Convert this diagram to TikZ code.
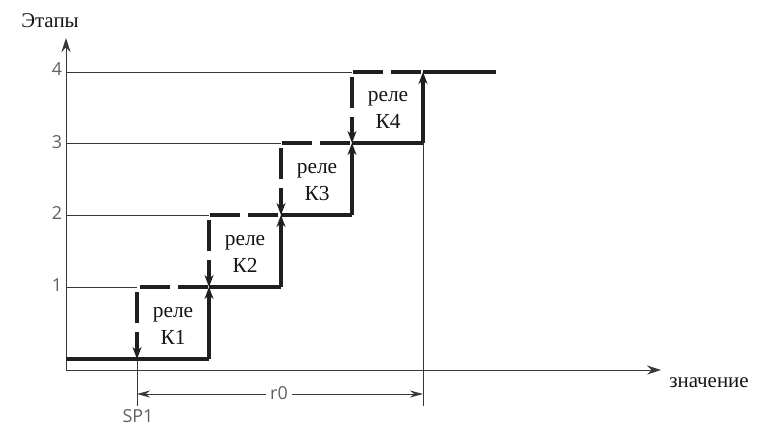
\documentclass[tikz,border=0pt]{standalone}
\usepackage{fontspec}
\setmainfont{Liberation Serif}
\newfontfamily\graysans{Open Sans}
\usetikzlibrary{arrows.meta}
\begin{document}
\begin{tikzpicture}[x=1bp,y=-1bp,
  thinline/.style={draw=black!78, line width=0.9bp},
  thickline/.style={draw=black!88, line width=3.8bp},
  dashline/.style={thickline, dash pattern=on 30bp off 8bp},
  dasharrow/.style={thickline, dash pattern=on 31bp off 9bp, -{Stealth[length=12bp,width=9bp]}},
  uparrow/.style={thickline, -{Stealth[length=12bp,width=9bp]}},
  axisarrow/.style={thinline, -{Stealth[length=14bp,width=9bp]}},
  dimarrow/.style={thinline, {Stealth[length=13bp,width=7bp]}-{Stealth[length=13bp,width=7bp]}},
  serlabel/.style={font=\fontsize{21}{26}\selectfont, text=black!92, inner sep=0pt},
  relay/.style={font=\fontsize{21.5}{27}\selectfont, text=black!92, align=center, inner sep=0pt},
  numlabel/.style={font=\graysans\fontsize{18}{20}\selectfont, text=black!62, inner sep=0pt}
]
\useasboundingbox (0,0) rectangle (760,428);
% axes
\coordinate (O) at (66,370);
\coordinate (ytop) at (66,38);
\coordinate (xend) at (661,370);
\draw[axisarrow] (O) -- (ytop);
\draw[axisarrow] (O) -- (xend);
\node[serlabel] (ylab) at (50,21) {Этапы};
\node[serlabel] (xlab) at (709,383) {значение};
% level coordinates
\coordinate (L0a) at (66,359);
\coordinate (L1a) at (66,287);
\coordinate (L2a) at (66,215);
\coordinate (L3a) at (66,143);
\coordinate (L4a) at (66,72);
\node[numlabel] (n1) at (57,285) {1};
\node[numlabel] (n2) at (57,213) {2};
\node[numlabel] (n3) at (57,142) {3};
\node[numlabel] (n4) at (57,69) {4};
% step corners
\coordinate (A0) at (137,359);
\coordinate (A1) at (137,287);
\coordinate (B0) at (209,359);
\coordinate (B1) at (209,287);
\coordinate (B2) at (209,215);
\coordinate (C1) at (281,287);
\coordinate (C2) at (281,215);
\coordinate (C3) at (281,143);
\coordinate (D2) at (352,215);
\coordinate (D3) at (352,143);
\coordinate (D4) at (352,72);
\coordinate (E3) at (423,143);
\coordinate (E4) at (423,72);
\coordinate (F4) at (496,72);
% thin level lines
\draw[thinline] (L1a) -- (A1);
\draw[thinline] (L2a) -- (B2);
\draw[thinline] (L3a) -- (C3);
\draw[thinline] (L4a) -- (D4);
% thin reference verticals
\coordinate (SPb) at (137,406);
\coordinate (Eb) at (423,406);
\draw[thinline] (A0) -- (SPb);
\draw[thinline] (E3) -- (Eb);
% dashed (decreasing) paths
\draw[dashline] ([xshift=3bp]A1) -- (B1);
\draw[dashline] ([xshift=1bp]B2) -- (C2);
\draw[dashline] ([xshift=1bp]C3) -- (D3);
\draw[dashline] ([xshift=1bp]D4) -- (E4);
\draw[dasharrow] ([yshift=-5bp]A1) -- (A0);
\draw[dasharrow] ([yshift=-5bp]B2) -- (B1);
\draw[dasharrow] ([yshift=-5bp]C3) -- (C2);
\draw[dasharrow] ([yshift=-5bp]D4) -- (D3);
% thick (increasing) path
\draw[thickline] (L0a) -- (B0);
\draw[uparrow] (B0) -- (B1);
\draw[thickline] (B1) -- (C1);
\draw[uparrow] (C1) -- (C2);
\draw[thickline] (C2) -- (D2);
\draw[uparrow] (D2) -- (D3);
\draw[thickline] (D3) -- (E3);
\draw[uparrow] (E3) -- (E4);
\draw[thickline] (E4) -- (F4);
% relay labels
\node[relay] (k1) at (173,326) {реле\\К1};
\node[relay] (k2) at (245,254) {реле\\К2};
\node[relay] (k3) at (317,182) {реле\\К3};
\node[relay] (k4) at (388,110) {реле\\К4};
% dimension r0
\coordinate (dA) at (137,394);
\coordinate (dE) at (423,394);
\draw[dimarrow] (dA) -- (dE);
\node[numlabel, fill=white, inner xsep=4bp, inner ysep=2bp] (r0) at (279,393) {r0};
\node[numlabel] (sp1) at (138,416) {SP1};
\end{tikzpicture}
\end{document}
